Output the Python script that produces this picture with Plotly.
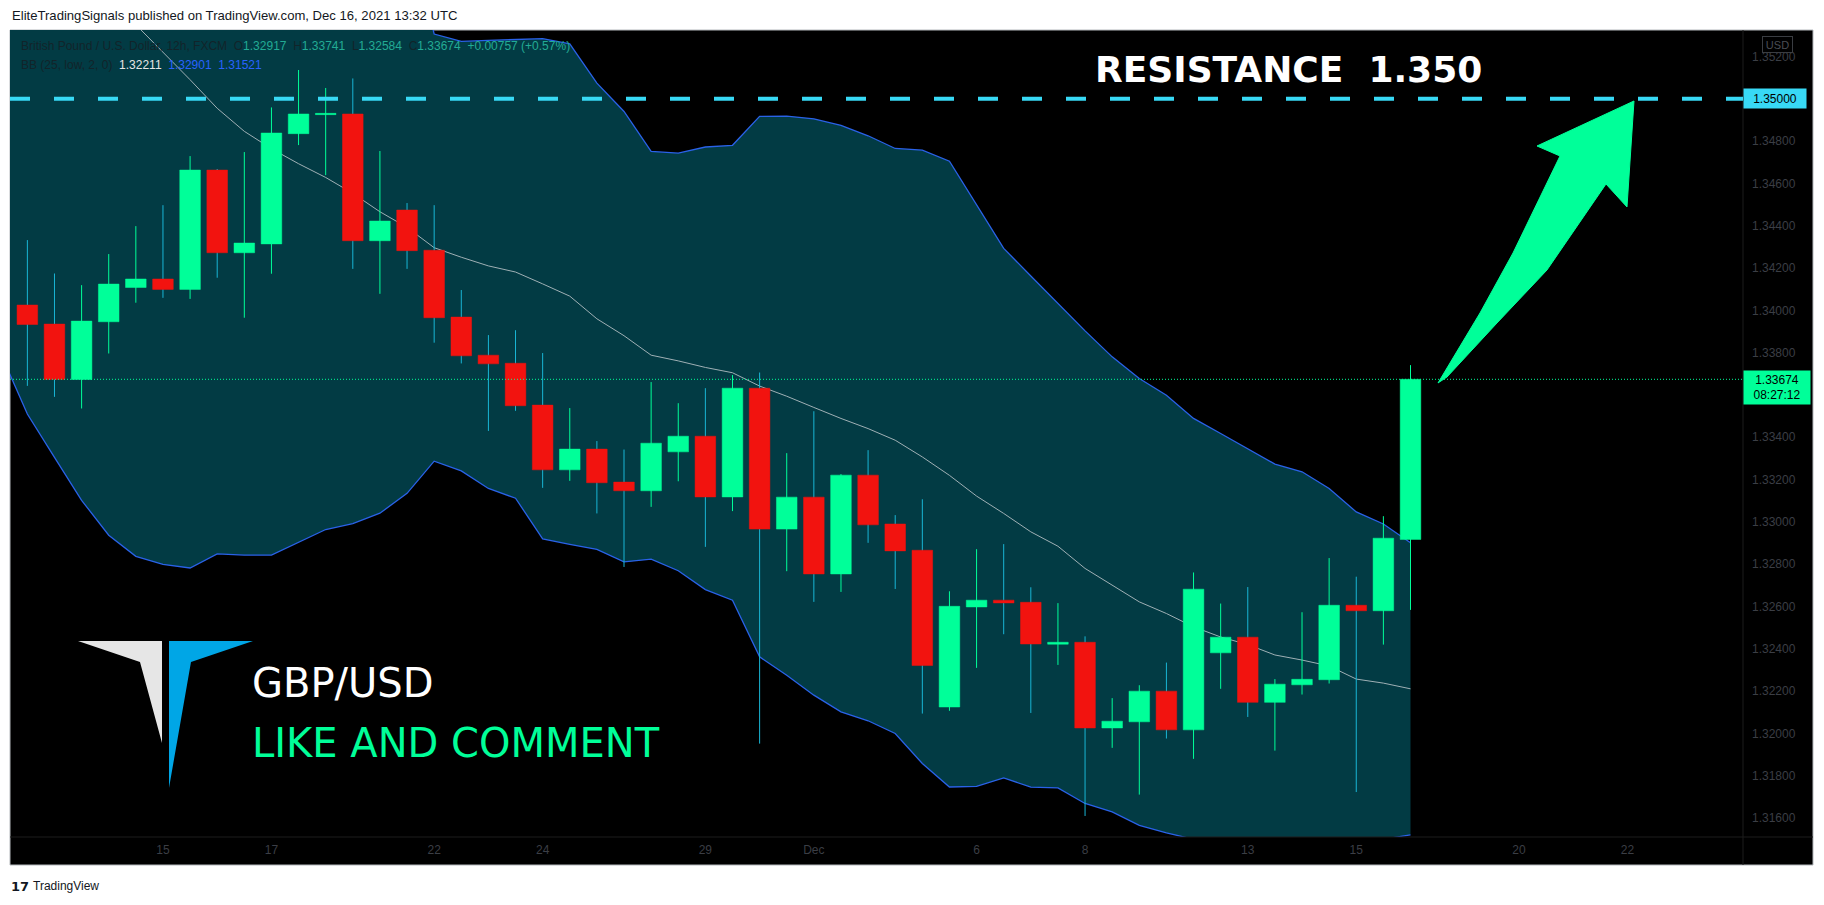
import plotly.graph_objects as go

# ---------------- data (GBP/USD, 12h candles) ----------------
opens = [1.34025, 1.33935, 1.33673, 1.33946, 1.34108, 1.34148, 1.34099, 1.34663, 1.34272, 1.34314,
         1.34835, 1.34926, 1.34928, 1.34329, 1.34474, 1.34284, 1.33968, 1.33788, 1.33750, 1.33552,
         1.33246, 1.33344, 1.33188, 1.33147, 1.33331, 1.33405, 1.33118, 1.33632, 1.32966, 1.33117,
         1.32754, 1.33221, 1.32990, 1.32866, 1.32125, 1.32598, 1.32630, 1.32620, 1.32422, 1.32431,
         1.32026, 1.32055, 1.32200, 1.32017, 1.32381, 1.32455, 1.32147, 1.32230, 1.32254, 1.32606,
         1.32580, 1.32917]
highs = [1.34332, 1.34174, 1.34119, 1.34266, 1.34398, 1.34497, 1.34729, 1.34668, 1.34748, 1.34959,
         1.35136, 1.35051, 1.35096, 1.34753, 1.34507, 1.34497, 1.34096, 1.33883, 1.33906, 1.33798,
         1.33538, 1.33382, 1.33342, 1.33661, 1.33561, 1.33632, 1.33694, 1.33706, 1.33325, 1.33523,
         1.33226, 1.33339, 1.33032, 1.33107, 1.32672, 1.32871, 1.32895, 1.32691, 1.32616, 1.32459,
         1.32167, 1.32228, 1.32335, 1.32761, 1.32614, 1.32692, 1.32257, 1.32573, 1.32829, 1.32741,
         1.33027, 1.33741]
lows = [1.33643, 1.33591, 1.33536, 1.33796, 1.34036, 1.34059, 1.34054, 1.34154, 1.33965, 1.34173,
        1.34781, 1.34639, 1.34196, 1.34078, 1.34196, 1.33847, 1.33749, 1.33430, 1.33525, 1.33161,
        1.33194, 1.33040, 1.32787, 1.33071, 1.33192, 1.32882, 1.33051, 1.31952, 1.32767, 1.32622,
        1.32669, 1.32901, 1.32683, 1.32094, 1.32107, 1.32310, 1.32469, 1.32097, 1.32324, 1.31610,
        1.31932, 1.31711, 1.31976, 1.31880, 1.32211, 1.32078, 1.31919, 1.32184, 1.32236, 1.31723,
        1.32420, 1.32584]
closes = [1.33933, 1.33673, 1.33949, 1.34124, 1.34148, 1.34099, 1.34663, 1.34272, 1.34318, 1.34838,
          1.34928, 1.34930, 1.34329, 1.34422, 1.34282, 1.33965, 1.33785, 1.33747, 1.33549, 1.33246,
          1.33344, 1.33185, 1.33147, 1.33372, 1.33405, 1.33118, 1.33632, 1.32966, 1.33117, 1.32754,
          1.33221, 1.32986, 1.32863, 1.32321, 1.32601, 1.32630, 1.32617, 1.32423, 1.32431, 1.32026,
          1.32058, 1.32200, 1.32017, 1.32682, 1.32455, 1.32147, 1.32233, 1.32256, 1.32606, 1.32580,
          1.32923, 1.33674]

# Bollinger Bands (25, low, 2) — first value belongs to the bar just left of the view
bb_start = -1
bb_upper = [1.3622, 1.3620, 1.3616, 1.3612, 1.3608, 1.3604, 1.3602, 1.3604, 1.3603, 1.3605,
            1.3610, 1.3612, 1.3612, 1.3608, 1.3600, 1.3585, 1.35306, 1.35271, 1.35276, 1.35280,
            1.35284, 1.35259, 1.35074, 1.34940, 1.34751, 1.34743, 1.34772, 1.34780, 1.34917, 1.34918,
            1.34905, 1.34874, 1.34825, 1.34765, 1.34757, 1.34705, 1.34496, 1.34293, 1.34162, 1.34033,
            1.33903, 1.33780, 1.33678, 1.33599, 1.33489, 1.33418, 1.33345, 1.33273, 1.33237, 1.33158,
            1.33047, 1.32990, 1.32901]
bb_mid = [1.3601, 1.3588, 1.3575, 1.3562, 1.3549, 1.3535, 1.3522, 1.3509, 1.34955, 1.34846,
          1.34764, 1.34693, 1.34628, 1.34553, 1.34466, 1.34392, 1.34296, 1.34251, 1.34210, 1.34181,
          1.34125, 1.34067, 1.33960, 1.33880, 1.33788, 1.33761, 1.33730, 1.33705, 1.33642, 1.33594,
          1.33541, 1.33489, 1.33441, 1.33386, 1.33307, 1.33220, 1.33122, 1.33040, 1.32953, 1.32885,
          1.32780, 1.32701, 1.32622, 1.32567, 1.32504, 1.32456, 1.32420, 1.32371, 1.32347, 1.32319,
          1.32257, 1.32238, 1.32211]
bb_lower = [1.33800, 1.33510, 1.33305, 1.33102, 1.32937, 1.32837, 1.32799, 1.32782, 1.32849, 1.32843,
            1.32843, 1.32904, 1.32964, 1.32992, 1.33041, 1.33135, 1.33287, 1.33241, 1.33158, 1.33112,
            1.32920, 1.32894, 1.32870, 1.32811, 1.32824, 1.32769, 1.32680, 1.32630, 1.32362, 1.32275,
            1.32181, 1.32102, 1.32060, 1.32000, 1.31858, 1.31747, 1.31750, 1.31790, 1.31746, 1.31743,
            1.31669, 1.31629, 1.31566, 1.31530, 1.31500, 1.31480, 1.31470, 1.31470, 1.31470, 1.31480,
            1.31490, 1.31500, 1.31521]

tick_pos = [5, 9, 15, 19, 25, 29, 35, 39, 45, 49, 55, 59]
tick_labels = ["15", "17", "22", "24", "29", "Dec", "6", "8", "13", "15", "20", "22"]
# price ticks visible on the axis (1.336 and 1.350 are hidden behind the price boxes)
price_ticks = [1.316, 1.318, 1.320, 1.322, 1.324, 1.326, 1.328, 1.330, 1.332, 1.334,
               1.338, 1.340, 1.342, 1.344, 1.346, 1.348, 1.352]

last_price = 1.33674
countdown = "08:27:12"
resistance = 1.35

# ---------------- styling ----------------
# the page body adds an 8px offset; all pixel positions below are screen pixels
OFF = 8
W, H = 1824 - OFF, 905 - OFF
PL, PT, PR, PBOT = 10, 30, 1743, 837          # plot area on screen
PW, PH = PR - PL, PBOT - PT
ML, MT = PL - OFF, PT - OFF
MR, MB = W - ML - PW, H - MT - PH

UP = "#00ff99"
DOWN = "#f2130f"
DOWN_WICK = "#19b6d6"
TEAL = "#023b44"
BAND = "#2a62e8"
MID = "#9fb0b5"
CYAN = "#38d9f5"
AXIS_TXT = "#3b3e45"
BODY_W = 0.76


def px(x):
    return (x - PL) / PW


def py(y):
    return (PBOT - y) / PH


n = len(opens)
idx = list(range(n))
band_x = list(range(bb_start, bb_start + len(bb_upper)))

fig = go.Figure()

# Bollinger band fill + lines
fig.add_trace(go.Scatter(x=band_x, y=bb_lower, mode="lines", line=dict(color=BAND, width=1.3),
                         hoverinfo="skip", showlegend=False))
fig.add_trace(go.Scatter(x=band_x, y=bb_upper, mode="lines", line=dict(color=BAND, width=1.3),
                         fill="tonexty", fillcolor=TEAL, hoverinfo="skip", showlegend=False))
fig.add_trace(go.Scatter(x=band_x, y=bb_mid, mode="lines", line=dict(color=MID, width=1),
                         hoverinfo="skip", showlegend=False))

# wicks
for up in (True, False):
    wx, wy = [], []
    for i in idx:
        if (closes[i] >= opens[i]) == up:
            wx += [i, i, None]
            wy += [lows[i], highs[i], None]
    fig.add_trace(go.Scatter(x=wx, y=wy, mode="lines",
                             line=dict(color=UP if up else DOWN_WICK, width=1),
                             hoverinfo="skip", showlegend=False))

# bodies (filled polygons so they sit above the band fill)
min_body = 0.00006
for up in (True, False):
    bx, by = [], []
    for i in idx:
        o, c = opens[i], closes[i]
        if (c >= o) == up:
            lo, hi = min(o, c), max(o, c)
            if hi - lo < min_body:
                mid = (hi + lo) / 2
                lo, hi = mid - min_body / 2, mid + min_body / 2
            x0, x1 = i - BODY_W / 2, i + BODY_W / 2
            bx += [x0, x1, x1, x0, x0, None]
            by += [lo, lo, hi, hi, lo, None]
    col = UP if up else DOWN
    fig.add_trace(go.Scatter(x=bx, y=by, mode="lines", fill="toself", fillcolor=col,
                             line=dict(color=col, width=0.5), hoverinfo="skip", showlegend=False))

shapes = []
# black frame incl. price / time axis panels
shapes.append(dict(type="rect", xref="paper", yref="paper", x0=px(10), x1=px(1813), y0=py(865), y1=py(30),
                   fillcolor="#000000", line=dict(color="#b4b8bc", width=1), layer="below"))
# separators
shapes.append(dict(type="line", xref="paper", yref="paper", x0=1, x1=1, y0=py(865), y1=1,
                   line=dict(color="#1c1c1c", width=1)))
shapes.append(dict(type="line", xref="paper", yref="paper", x0=0, x1=px(1813), y0=0, y1=0,
                   line=dict(color="#1c1c1c", width=1)))
# resistance dashed line
shapes.append(dict(type="line", xref="paper", yref="y", x0=0, x1=1, y0=resistance, y1=resistance,
                   line=dict(color=CYAN, width=4, dash="20px,24px"), layer="above"))
# last price dotted line
shapes.append(dict(type="line", xref="paper", yref="y", x0=0, x1=1, y0=last_price, y1=last_price,
                   line=dict(color=UP, width=1, dash="1px,2px"), layer="above"))


def poly(points):
    return "M " + " L ".join(f"{px(a):.5f},{py(b):.5f}" for a, b in points) + " Z"


# big green arrow
arrow = [(1438, 383), (1480, 313), (1513, 253), (1560, 156), (1537, 146), (1634, 101),
         (1627, 207), (1606, 184), (1547, 270), (1497, 323), (1447, 377)]
shapes.append(dict(type="path", xref="paper", yref="paper", path=poly(arrow),
                   fillcolor=UP, line=dict(color=UP, width=1), layer="above"))
# logo
logo_l = [(78, 641), (162, 641), (162, 743), (140, 662)]
logo_r = [(169, 641), (253, 641), (191, 662), (169, 788)]
shapes.append(dict(type="path", xref="paper", yref="paper", path=poly(logo_l),
                   fillcolor="#e6e6e6", line=dict(width=0), layer="above"))
shapes.append(dict(type="path", xref="paper", yref="paper", path=poly(logo_r),
                   fillcolor="#00a6e6", line=dict(width=0), layer="above"))

NB = "\u00a0"
DARK = "#12242a"
VAL = "#22ab94"
chg = closes[-1] - opens[-1]
legend1 = (f"<span style='color:{DARK}'>British Pound / U.S. Dollar, 12h, FXCM</span>{NB}{NB}"
           f"<span style='color:{DARK}'>O</span><span style='color:{VAL}'>{opens[-1]:.5f}</span>{NB}{NB}"
           f"<span style='color:{DARK}'>H</span><span style='color:{VAL}'>{highs[-1]:.5f}</span>{NB}{NB}"
           f"<span style='color:{DARK}'>L</span><span style='color:{VAL}'>{lows[-1]:.5f}</span>{NB}{NB}"
           f"<span style='color:{DARK}'>C</span><span style='color:{VAL}'>{closes[-1]:.5f}</span>{NB}{NB}"
           f"<span style='color:{VAL}'>+{chg:.5f} (+{chg / opens[-1] * 100:.2f}%)</span>")
legend2 = (f"<span style='color:{DARK}'>BB (25, low, 2, 0)</span>{NB}{NB}"
           f"<span style='color:#e6e6e6'>{bb_mid[-1]:.5f}</span>{NB}{NB}"
           f"<span style='color:#2962ff'>{bb_upper[-1]:.5f}</span>{NB}{NB}"
           f"<span style='color:#2962ff'>{bb_lower[-1]:.5f}</span>")

annotations = [
    dict(xref="paper", yref="paper", x=px(10), y=py(15), xanchor="left", yanchor="middle",
         text="EliteTradingSignals published on TradingView.com, Dec 16, 2021 13:32 UTC",
         showarrow=False, font=dict(family="Liberation Sans", size=13.1, color="#131722")),
    dict(xref="paper", yref="paper", x=px(19), y=py(46), xanchor="left", yanchor="middle",
         text=legend1, showarrow=False, font=dict(family="Liberation Sans", size=12)),
    dict(xref="paper", yref="paper", x=px(19), y=py(65), xanchor="left", yanchor="middle",
         text=legend2, showarrow=False, font=dict(family="Liberation Sans", size=12)),
    dict(xref="paper", yref="paper", x=px(1288), y=py(69), xanchor="center", yanchor="middle",
         text=f"RESISTANCE{NB}{NB}{resistance:.3f}", showarrow=False,
         font=dict(family="DejaVu Sans", size=36, color="#ffffff", weight="bold")),
    dict(xref="paper", yref="paper", x=px(251), y=py(683), xanchor="left", yanchor="middle",
         text="GBP/USD", showarrow=False, borderpad=0,
         font=dict(family="DejaVu Sans", size=40, color="#ffffff")),
    dict(xref="paper", yref="paper", x=px(251), y=py(743), xanchor="left", yanchor="middle",
         text="LIKE AND COMMENT", showarrow=False, borderpad=0,
         font=dict(family="DejaVu Sans", size=40, color=UP)),
    # price axis boxes
    dict(xref="paper", yref="y", x=1, y=resistance, xanchor="left", yanchor="middle",
         text=f"{resistance:.5f}", showarrow=False, width=60, height=17, borderpad=1,
         bgcolor=CYAN, align="center", font=dict(family="Liberation Sans", size=12, color="#000000")),
    dict(xref="paper", yref="y", x=1, y=last_price, xanchor="left", yanchor="top", yshift=9,
         text=f"{last_price:.5f}<br>{countdown}", showarrow=False, width=64, height=31, borderpad=1,
         bgcolor=UP, align="center", font=dict(family="Liberation Sans", size=12, color="#000000")),
    dict(xref="paper", yref="paper", x=px(1762), y=py(45), xanchor="left", yanchor="middle",
         text="USD", showarrow=False, width=27, height=13, borderpad=1, bordercolor="#3a3d42",
         borderwidth=1, font=dict(family="Liberation Sans", size=11, color="#4a4d54")),
    # footer
    dict(xref="paper", yref="paper", x=px(10), y=py(886), xanchor="left", yanchor="middle",
         text="<b>17</b>", showarrow=False, borderpad=0,
         font=dict(family="DejaVu Sans", size=13, color="#131722")),
    dict(xref="paper", yref="paper", x=px(32), y=py(886), xanchor="left", yanchor="middle",
         text="TradingView", showarrow=False, borderpad=0,
         font=dict(family="Liberation Sans", size=12, color="#131722")),
]

fig.update_layout(
    width=W, height=H, margin=dict(l=ML, r=MR, t=MT, b=MB, autoexpand=False),
    template="none", paper_bgcolor="#ffffff", plot_bgcolor="#000000",
    showlegend=False, hovermode=False,
    shapes=shapes, annotations=annotations,
    xaxis=dict(range=[-0.64, 63.26], tickvals=tick_pos, ticktext=tick_labels, showgrid=False,
               zeroline=False, showline=False, ticks="", automargin=False, ticklabelstandoff=4,
               tickfont=dict(family="Liberation Sans", size=12, color=AXIS_TXT), fixedrange=True),
    yaxis=dict(range=[1.315106, 1.35325], side="right", tickvals=price_ticks, tickformat=".5f",
               showgrid=False, zeroline=False, showline=False, ticks="", automargin=False,
               ticklabelstandoff=8, tickfont=dict(family="Liberation Sans", size=12, color=AXIS_TXT),
               fixedrange=True),
)

fig.write_html("out.html")
